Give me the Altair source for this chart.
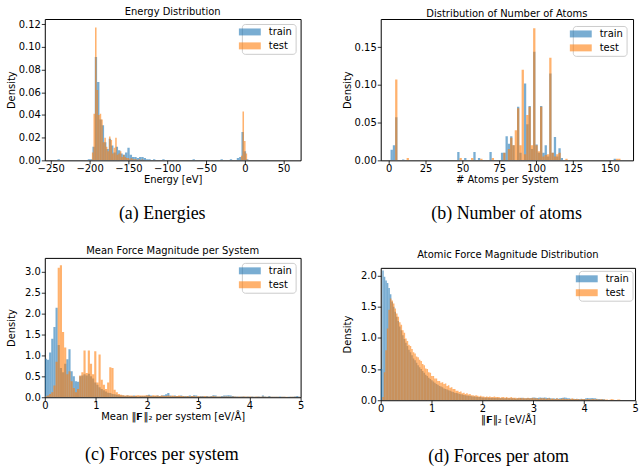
import altair as alt
import pandas as pd

FONT = "DejaVu Sans"
SERIF = "Liberation Serif"
C_TRAIN = "#1f77b4"
C_TEST = "#ff7f0e"

# ---------------- (a) energies: bin left edges [eV] and densities ----------------
energy_width_train = 3.0
energy_train_left = [-241.3, -202.3, -199.3, -196.3, -193.3, -190.3, -187.3, -184.3, -181.3,
                     -178.3, -175.3, -172.3, -169.3, -166.3, -163.3, -160.3, -157.3, -154.3,
                     -151.3, -148.3, -145.3, -142.3, -139.3, -136.3, -133.3, -130.3, -127.3,
                     -124.3, -118.3, -106.3, -67.3, -31.3, -19.3, -10.3, -7.3, -4.3, -1.3, 1.7]
energy_train_density = [0.001, 0.001, 0.001, 0.012, 0.091, 0.069, 0.036, 0.031, 0.016,
                        0.010, 0.019, 0.013, 0.007, 0.012, 0.009, 0.006, 0.005, 0.007,
                        0.011, 0.005, 0.003, 0.003, 0.002, 0.003, 0.003, 0.002, 0.001,
                        0.001, 0.001, 0.001, 0.001, 0.001, 0.001, 0.002, 0.003, 0.025, 0.008, 0.001]
energy_width_test = 2.0
energy_test_left = [-197, -195, -193, -191, -189, -187, -185, -183, -181, -179, -177, -175,
                    -173, -171, -169, -167, -165, -163, -161, -159, -157, -155, -153, -151,
                    -149, -147, -145, -143, -141, -137, -133, -5, -3, -1, 1]
energy_test_density = [0.007, 0.041, 0.117, 0.062, 0.040, 0.041, 0.036, 0.016, 0.020, 0.012,
                       0.008, 0.021, 0.018, 0.006, 0.011, 0.020, 0.005, 0.006, 0.008, 0.003,
                       0.005, 0.003, 0.002, 0.002, 0.001, 0.002, 0.001, 0.001, 0.001, 0.001,
                       0.001, 0.004, 0.043, 0.017, 0.006]

# ---------------- (b) number of atoms ----------------
atoms_width = 1.56
atoms_train_left = [1.20, 2.76, 4.32, 9.00, 46.44, 51.12, 57.36, 60.48, 68.28, 76.08, 77.64,
                    79.20, 80.76, 82.32, 83.88, 87.00, 88.56, 91.68, 93.24, 94.80, 96.36,
                    97.92, 99.48, 101.04, 102.60, 104.16, 105.72, 107.28, 108.84, 110.40,
                    111.96, 113.52, 115.08, 116.64, 152.52]
atoms_train_density = [0.014, 0.020, 0.057, 0.001, 0.011, 0.003, 0.011, 0.003, 0.011, 0.010, 0.010,
                       0.032, 0.022, 0.032, 0.020, 0.071, 0.010, 0.102, 0.048, 0.072, 0.015,
                       0.144, 0.021, 0.010, 0.072, 0.010, 0.020, 0.005, 0.115, 0.010,
                       0.031, 0.005, 0.016, 0.003, 0.002]
atoms_test_left = [4.32, 12.12, 48.00, 55.80, 62.04, 69.84, 77.64, 80.76, 82.32, 83.88, 85.44,
                   87.00, 88.56, 90.12, 91.68, 93.24, 94.80, 96.36, 97.92, 99.48, 101.04,
                   102.60, 104.16, 105.72, 107.28, 108.84, 110.40, 111.96, 113.52, 115.08,
                   119.76, 154.08, 155.64]
atoms_test_density = [0.107, 0.003, 0.003, 0.003, 0.002, 0.003, 0.010, 0.015, 0.030, 0.020, 0.040,
                      0.069, 0.020, 0.120, 0.008, 0.060, 0.071, 0.020, 0.175, 0.020, 0.012,
                      0.071, 0.005, 0.007, 0.008, 0.136, 0.010, 0.005, 0.008, 0.010,
                      0.002, 0.002, 0.002]

# ---------------- (c) mean force per system (bins of 0.042 from 0) ----------------
fsys_width = 0.042
fsys_train = [0.92, 0.90, 1.07, 1.40, 1.68, 2.14, 1.25, 0.70, 0.60, 0.80,
              0.91, 1.15, 0.62, 0.50, 0.38, 0.37, 0.50, 0.52, 0.55, 0.52,
              0.56, 0.50, 0.45, 0.35, 0.30, 0.24, 0.20, 0.17, 0.14, 0.11,
              0.10, 0.08, 0.07, 0.06, 0.05, 0.04,
              0.04, 0.03, 0.04, 0.03, 0.03, 0.04, 0.03, 0.02, 0.03, 0.03,
              0.03, 0.04, 0.06, 0.04, 0.03, 0.03, 0.04, 0.03, 0.04, 0.05,
              0.07, 0.10, 0.04, 0.03, 0.04, 0.03, 0.03, 0.04, 0.03, 0.03,
              0.03, 0.04, 0.03, 0.05, 0.04, 0.02, 0.03, 0.03, 0.02, 0.03,
              0.02, 0.03, 0.05, 0.04, 0.02, 0.02, 0.03, 0.04, 0.04, 0.05,
              0.04, 0.03, 0.02, 0.02, 0.01, 0.02, 0.02, 0.01, 0.02, 0.01,
              0.02, 0.01, 0.01, 0.02, 0.01, 0.04, 0.02, 0.01, 0.03, 0.01,
              0.01, 0.01, 0.01, 0.02, 0.01, 0.01, 0.00, 0.01, 0.01, 0.01,
              0.02, 0.03, 0.01]
fsys_test = [0.02, 0.04, 0.08, 0.12, 0.28, 0.85, 3.10, 3.16, 1.56, 1.19,
             0.55, 0.62, 0.38, 0.22, 0.12, 0.20, 0.52, 0.60, 1.12, 0.58,
             1.12, 0.80, 0.55, 1.10, 0.35, 1.02, 0.42, 0.30, 0.20, 0.35,
             0.72, 0.70, 0.18, 0.12, 0.08, 0.06,
             0.05, 0.04, 0.05, 0.04, 0.04, 0.03, 0.04, 0.05, 0.04, 0.04,
             0.04, 0.05, 0.04, 0.03, 0.05, 0.04, 0.04, 0.03, 0.04, 0.03,
             0.03, 0.04, 0.03, 0.04, 0.03, 0.03, 0.04, 0.03, 0.03, 0.02,
             0.03, 0.02, 0.03, 0.03, 0.02, 0.03, 0.02, 0.02, 0.03, 0.02,
             0.02, 0.02, 0.03, 0.02, 0.02, 0.02, 0.01, 0.02, 0.02, 0.02,
             0.01, 0.02, 0.02, 0.01, 0.02, 0.01, 0.02, 0.02, 0.01, 0.02,
             0.01, 0.01, 0.02, 0.01, 0.01, 0.02, 0.01, 0.01, 0.01, 0.01,
             0.01, 0.01, 0.01, 0.00, 0.01, 0.01, 0.01, 0.00, 0.01, 0.01,
             0.01, 0.00, 0.01]

# ---------------- (d) per-atom force (bins of 0.03 from 0) ----------------
fatom_width = 0.03
fatom_train = [0.50, 2.08, 1.98, 1.92, 1.88, 1.80, 1.70, 1.58, 1.50, 1.42,
               1.34, 1.27, 1.18, 1.12, 1.04, 0.98, 0.92, 0.87, 0.81, 0.77,
               0.72, 0.67, 0.64, 0.60, 0.56, 0.53, 0.50, 0.47, 0.44, 0.41,
               0.39, 0.36, 0.34, 0.32, 0.30, 0.28, 0.26, 0.25, 0.23, 0.22,
               0.21, 0.19, 0.18, 0.17, 0.16, 0.15, 0.14, 0.13, 0.12, 0.115,
               0.11, 0.10, 0.095, 0.09, 0.085, 0.08, 0.075, 0.07, 0.07, 0.065,
               0.06, 0.06, 0.055, 0.05, 0.05, 0.05, 0.045, 0.045, 0.04, 0.045,
               0.04, 0.04, 0.035, 0.04, 0.035, 0.035, 0.04, 0.035, 0.03, 0.035,
               0.03, 0.03, 0.035, 0.03, 0.03, 0.03, 0.03, 0.03, 0.025, 0.03,
               0.03, 0.035, 0.04, 0.03, 0.03, 0.03, 0.035, 0.03, 0.035, 0.04,
               0.045, 0.04, 0.035, 0.04, 0.045, 0.04, 0.04, 0.045, 0.04, 0.035,
               0.04, 0.03, 0.025, 0.03, 0.025, 0.03, 0.025, 0.03, 0.035, 0.04,
               0.045, 0.04, 0.03, 0.03, 0.025, 0.02, 0.025, 0.02, 0.025, 0.02,
               0.02, 0.025, 0.02, 0.02, 0.03, 0.035, 0.03, 0.03, 0.035, 0.03,
               0.03, 0.025, 0.02, 0.02, 0.015, 0.02, 0.015]
fatom_test = [0.00, 0.05, 0.45, 0.80, 1.15, 1.45, 1.63, 1.60, 1.55, 1.47,
              1.39, 1.34, 1.25, 1.21, 1.12, 1.08, 0.99, 0.95, 0.89, 0.87,
              0.82, 0.77, 0.75, 0.70, 0.69, 0.65, 0.63, 0.58, 0.56, 0.51,
              0.50, 0.45, 0.44, 0.39, 0.39, 0.35, 0.35, 0.31, 0.31, 0.28,
              0.29, 0.26, 0.27, 0.23, 0.24, 0.20, 0.21, 0.18, 0.18, 0.15,
              0.15, 0.13, 0.14, 0.11, 0.12, 0.10, 0.11, 0.09, 0.10, 0.08,
              0.08, 0.07, 0.08, 0.07, 0.06, 0.07, 0.06, 0.06, 0.05, 0.06,
              0.05, 0.06, 0.05, 0.05, 0.06, 0.05, 0.05, 0.05, 0.04, 0.05,
              0.05, 0.04, 0.05, 0.04, 0.04, 0.05, 0.04, 0.04, 0.04, 0.03,
              0.04, 0.04, 0.03, 0.04, 0.03, 0.03, 0.04, 0.03, 0.03, 0.04,
              0.03, 0.03, 0.03, 0.02, 0.03, 0.03, 0.03, 0.03, 0.02, 0.03,
              0.03, 0.02, 0.03, 0.02, 0.02, 0.03, 0.02, 0.02, 0.02, 0.03,
              0.02, 0.02, 0.02, 0.02, 0.02, 0.03, 0.02, 0.02, 0.02, 0.02,
              0.01, 0.02, 0.02, 0.02, 0.01, 0.02, 0.02, 0.01, 0.02, 0.02,
              0.01, 0.02, 0.01, 0.01, 0.02, 0.01, 0.01, 0.01, 0.01, 0.00,
              0.01, 0.02, 0.01, 0.00, 0.00, 0.01, 0.01]

LEGEND_SHAPE = "M-2.2,-0.7H2.2V0.7H-2.2Z"


def sparse_frame(lefts, dens, width, label):
    return pd.DataFrame({"left": lefts, "right": [l + width for l in lefts],
                         "density": dens, "base": [0.0] * len(lefts), "set": label})


def dense_frame(dens, width, label):
    lefts = [round(i * width, 6) for i in range(len(dens))]
    return sparse_frame(lefts, dens, width, label)


def panel(df, w, h, title, title_y, xtitle, xdom, xticks, ydom, yticks, yfmt,
          ytitle_pad, legend_offset, caption, cap_x, cap_y):
    color = alt.Color(
        "set:N",
        scale=alt.Scale(domain=["train", "test"], range=[C_TRAIN, C_TEST]),
        legend=alt.Legend(title=None, orient="top-right", offset=legend_offset, padding=3,
                          symbolType=LEGEND_SHAPE, symbolSize=100, symbolStrokeWidth=0,
                          symbolOpacity=0.6, labelOffset=14, rowPadding=4,
                          labelFont=FONT, labelFontSize=10, labelColor="black",
                          fillColor="white", strokeColor="#cccccc",
                          cornerRadius=3),
    )
    bars = alt.Chart(df).mark_rect(opacity=0.6, clip=True).encode(
        x=alt.X("left:Q", scale=alt.Scale(domain=xdom, nice=False, zero=False),
                axis=alt.Axis(values=xticks, format="d", title=xtitle,
                              labelPadding=-0.5, titlePadding=1.5)),
        x2="right:Q",
        y=alt.Y("density:Q", scale=alt.Scale(domain=ydom, nice=False, zero=True),
                axis=alt.Axis(values=yticks, format=yfmt, title="Density",
                              titlePadding=ytitle_pad)),
        y2="base:Q",
        color=color,
    )
    ttl = alt.Chart(pd.DataFrame({"t": [title]})).mark_text(
        font=FONT, fontSize=10, color="black", align="center", baseline="alphabetic"
    ).encode(text="t:N", x=alt.value(w / 2), y=alt.value(-title_y))
    cap = alt.Chart(pd.DataFrame({"t": [caption]})).mark_text(
        font=SERIF, fontSize=18, color="black", align="center", baseline="alphabetic"
    ).encode(text="t:N", x=alt.value(cap_x), y=alt.value(cap_y))
    return alt.layer(bars, ttl, cap).properties(width=w, height=h)


df_a = pd.concat([sparse_frame(energy_train_left, energy_train_density, energy_width_train, "train"),
                  sparse_frame(energy_test_left, energy_test_density, energy_width_test, "test")])
df_b = pd.concat([sparse_frame(atoms_train_left, atoms_train_density, atoms_width, "train"),
                  sparse_frame(atoms_test_left, atoms_test_density, atoms_width, "test")])
df_c = pd.concat([dense_frame(fsys_train, fsys_width, "train"),
                  dense_frame(fsys_test, fsys_width, "test")])
df_d = pd.concat([dense_frame(fatom_train, fatom_width, "train"),
                  dense_frame(fatom_test, fatom_width, "test")])

pa = panel(df_a, 257, 142, "Energy Distribution", 4, "Energy [eV]",
           [-257.7, 71.9], [-250, -200, -150, -100, -50, 0, 50],
           [0, 0.1245], [0, 0.02, 0.04, 0.06, 0.08, 0.10, 0.12], ".2f", 2, 5,
           "(a) Energies", 118, 201)
pb = panel(df_b, 253.5, 142, "Distribution of Number of Atoms", 2.5, "# Atoms per System",
           [-5.45, 165.7], [0, 25, 50, 75, 100, 125, 150],
           [0, 0.1873], [0, 0.05, 0.10, 0.15], ".2f", 2, 7,
           "(b) Number of atoms", 126.5, 201)
pc = panel(df_c, 257, 140, "Mean Force Magnitude per System", 4,
           "Mean \u2016\U0001D5D9\u2016\u2082 per system [eV/\u00c5]",
           [0, 5], [0, 1, 2, 3, 4, 5],
           [0, 3.334], [0, 0.5, 1.0, 1.5, 2.0, 2.5, 3.0], ".1f", 8.4, 5,
           "(c) Forces per system", 117.5, 203)
pd_ = panel(df_d, 255.5, 133, "Atomic Force Magnitude Distribution", 9.6,
            "\u2016\U0001D5D9\u2016\u2082 [eV/\u00c5]",
            [0, 5], [0, 1, 2, 3, 4, 5],
            [0, 2.122], [0, 0.5, 1.0, 1.5, 2.0], ".1f", 8.4, 3,
            "(d) Forces per atom", 118.5, 195)

col1 = alt.concat(pa, pc, columns=1, spacing=21).resolve_scale(
    color="independent").resolve_legend(color="independent")
col2 = alt.concat(pb, pd_, columns=1, spacing=25).resolve_scale(
    color="independent").resolve_legend(color="independent")

chart = alt.hconcat(col1, col2, spacing=36.5).resolve_scale(
    color="independent").resolve_legend(color="independent").properties(
    padding={"left": 5, "top": 5, "right": 4, "bottom": 2},
    background="white",
).configure_view(
    stroke="black", strokeWidth=1
).configure_axis(
    grid=False, domain=False, labelFont=FONT, labelFontSize=10, labelColor="black",
    titleFont=FONT, titleFontSize=10, titleFontWeight="normal", titleColor="black",
    tickColor="black", tickSize=3.5, tickWidth=0.8, labelPadding=1, titlePadding=0.5,
    labelFlush=False, labelOverlap=False, labelBound=False,
).configure_legend(
    strokeColor="#cccccc", strokeWidth=1, fillColor="white"
)

chart.save("out.html", embed_options={"renderer": "svg", "actions": False})
